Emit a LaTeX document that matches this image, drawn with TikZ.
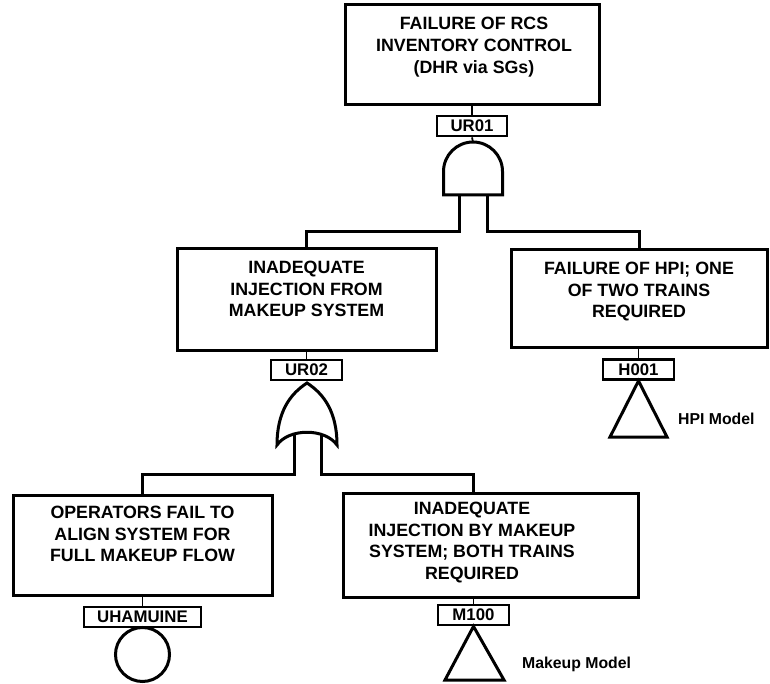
\documentclass[tikz,border=0pt]{standalone}
\usepackage{fontspec}
\setmainfont{Liberation Sans}
\begin{document}
\begin{tikzpicture}[x=1pt,y=-1pt,
  evbox/.style={draw, line width=3pt, inner sep=0pt},
  evtext/.style={anchor=north, align=center, inner sep=0pt,
    font=\fontsize{17.8}{21.7}\selectfont\bfseries},
  tag/.style={draw, line width=2.8pt, fill=white, inner sep=0pt,
    minimum height=20pt, font=\fontsize{16.8}{18}\selectfont\bfseries},
  gate/.style={draw, line width=3pt, fill=white, line join=miter},
  wire/.style={line width=3pt},
  conn/.style={line width=1.8pt},
  note/.style={anchor=west, inner sep=0pt, font=\fontsize{15.8}{18}\selectfont\bfseries}]
\useasboundingbox (0,0) rectangle (770,684);

% ---- event boxes ----
\node[evbox, minimum width=254pt, minimum height=100pt] (top) at (472,55) {};
\node[evtext] (topT) at (474,17.2) {FAILURE OF RCS\\INVENTORY CONTROL\\(DHR via SGs)};

\node[evbox, minimum width=259pt, minimum height=101pt] (midL) at (306.5,299.5) {};
\node[evtext] (midLT) at (306.5,260.7) {INADEQUATE\\INJECTION FROM\\MAKEUP SYSTEM};

\node[evbox, minimum width=256pt, minimum height=97pt] (midR) at (639,298.5) {};
\node[evtext] (midRT) at (639,261.7) {FAILURE OF HPI; ONE\\OF TWO TRAINS\\REQUIRED};

\node[evbox, minimum width=259pt, minimum height=100pt] (botL) at (142.5,545) {};
\node[evtext] (botLT) at (142.5,505.7) {OPERATORS FAIL TO\\ALIGN SYSTEM FOR\\FULL MAKEUP FLOW};

\node[evbox, minimum width=295pt, minimum height=104pt] (botR) at (490.5,545) {};
\node[evtext] (botRT) at (472,501.7) {INADEQUATE\\INJECTION BY MAKEUP\\SYSTEM; BOTH TRAINS\\REQUIRED};
\coordinate (botRin) at (473,493);

% ---- gate tags ----
\node[tag, minimum width=70pt] (ur01) at (472,126) {UR01};
\node[tag, minimum width=71pt] (ur02) at (306.5,370) {UR02};
\node[tag, minimum width=71pt] (h001) at (638.5,369.5) {H001};
\node[tag, minimum width=117pt] (uham) at (142.5,617) {UHAMUINE};
\node[tag, minimum width=71pt] (m100) at (473.5,615) {M100};

% ---- box to tag connectors ----
\draw[conn] (top.south -| ur01.north) -- (ur01.north);
\draw[conn] (midL.south -| ur02.north) -- (ur02.north);
\draw[conn] (midR.south -| h001.north) -- (h001.north);
\draw[conn] (botL.south -| uham.north) -- (uham.north);
\draw[conn] (botR.south -| m100.north) -- (m100.north);

% ---- AND gate UR01 ----
\coordinate (andtop) at (473,142);
\draw[wire] (459,188) -- (459,232) -| (midL.north);
\draw[wire] (487,188) -- (487,232) -| (midR.north);
\draw[conn] (ur01.south) -- (andtop);
\draw[gate] (443.5,195) -- (443.5,171.5)
  .. controls (443.5,155.2) and (456.7,142) .. (andtop)
  .. controls (489.3,142) and (502.5,155.2) .. (502.5,171.5)
  -- (502.5,195) -- cycle;

% ---- OR gate UR02 ----
\coordinate (ortop) at (307,383);
\draw[wire] (294,425) -- (294,474) -| (botL.north);
\draw[wire] (321,425) -- (321,474) -| (botRin);
\draw[gate] (277,445) .. controls (277,412) and (290,394) .. (ortop)
  .. controls (324,394) and (337,412) .. (337,445)
  .. controls (325,428) and (289,428) .. cycle;

% ---- basic event and transfers ----
\node[circle, draw, line width=3pt, minimum size=54pt, inner sep=0pt] (op) at (142.5,654.5) {};
\draw[gate] (h001.south) -- (667,437) -- (610,437) -- cycle;
\draw[gate] (m100.south) -- (504,680) -- (445,680) -- cycle;

\node[note] (hpinote) at (678,419) {HPI Model};
\node[note] (mknote) at (522,664) {Makeup Model};
\end{tikzpicture}
\end{document}
